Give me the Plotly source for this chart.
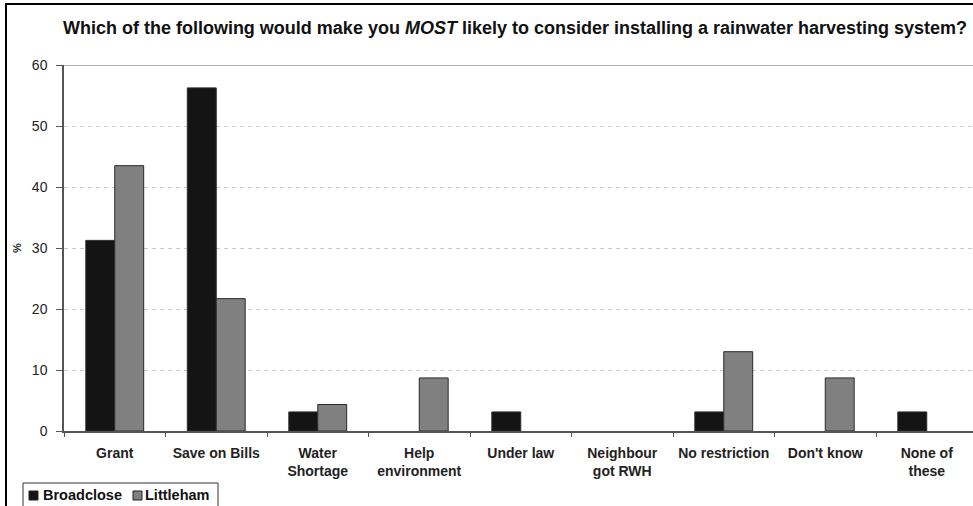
import plotly.graph_objects as go

categories = ["Grant", "Save on Bills", "Water<br>Shortage", "Help<br>environment",
              "Under law", "Neighbour<br>got RWH", "No restriction", "Don't know",
              "None of<br>these"]
broadclose = [31.25, 56.25, 3.125, 0, 3.125, 0, 3.125, 0, 3.125]
littleham = [43.5, 21.7, 4.35, 8.7, 0, 0, 13.0, 8.7, 0]
y_ticks = [0, 10, 20, 30, 40, 50, 60]

W, H = 973, 506
L, R, T, B = 64, 0, 65, 75
PW, PH = W - L - R, H - T - B

def px(x):
    return (x - L) / PW

def py(y):
    return (H - B - y) / PH

FONT = "Liberation Sans, Arial, sans-serif"

def outline_widths(vals):
    return [1 if v else 0 for v in vals]

fig = go.Figure()
fig.add_trace(go.Bar(name="Broadclose", x=categories, y=broadclose,
                     marker=dict(color="#141414",
                                 line=dict(color="#2a2a2a", width=outline_widths(broadclose))),
                     showlegend=False))
fig.add_trace(go.Bar(name="Littleham", x=categories, y=littleham,
                     marker=dict(color="#808080",
                                 line=dict(color="#2a2a2a", width=outline_widths(littleham))),
                     showlegend=False))

cat_px = 101.5
span = PW / cat_px

fig.update_layout(
    width=W, height=H,
    margin=dict(l=L, r=R, t=T, b=B, autoexpand=False),
    paper_bgcolor="white", plot_bgcolor="white",
    barmode="group", bargap=0.43, bargroupgap=0,
    font=dict(family=FONT, color="#222222", size=12),
    title=dict(text="<b>Which of the following would make you <i>MOST</i> likely to consider installing a rainwater harvesting system?</b>",
               x=px(515), xref="paper", xanchor="center", y=1 - 28 / H, yanchor="middle",
               font=dict(size=18, color="#111111", family=FONT)),
    xaxis=dict(range=[-0.5, -0.5 + span], showgrid=False,
               showline=True, linecolor="#555555", linewidth=1.5,
               ticks="outside", tickson="boundaries", ticklen=4, tickcolor="#555555",
               ticklabelstandoff=8,
               tickfont=dict(size=14, family=FONT, color="#222222"),
               tickprefix="<b>", ticksuffix="</b>", fixedrange=True),
    yaxis=dict(range=[0, 60], tickvals=y_ticks, showgrid=True,
               gridcolor="#c8c8c8", griddash="4px,4px", gridwidth=1,
               showline=True, linecolor="#555555", linewidth=1.5,
               ticks="outside", ticklen=6, tickcolor="#555555",
               ticklabelstandoff=6,
               tickfont=dict(size=14, family=FONT, color="#222222"),
               tickprefix="<b>", ticksuffix="</b>", zeroline=False,
               title=dict(text="<b>%</b>", font=dict(size=11, family=FONT, color="#222222"),
                          standoff=8)),
)

# top border line of plot area (light grey, solid)
fig.add_shape(type="line", xref="paper", yref="y", x0=0, x1=1, y0=60, y1=60,
              line=dict(color="#b4b4b4", width=2), layer="below")

# outer black frame
fig.add_shape(type="rect", xref="paper", yref="paper",
              x0=px(6), x1=px(990), y0=py(520), y1=py(4),
              line=dict(color="black", width=2), fillcolor="rgba(0,0,0,0)")

# custom legend
fig.add_shape(type="rect", xref="paper", yref="paper",
              x0=px(23), x1=px(218), y0=py(515), y1=py(483),
              line=dict(color="#333333", width=1), fillcolor="white")
fig.add_shape(type="rect", xref="paper", yref="paper",
              x0=px(29), x1=px(38), y0=py(500), y1=py(491),
              line=dict(color="#222222", width=1), fillcolor="#141414")
fig.add_shape(type="rect", xref="paper", yref="paper",
              x0=px(133), x1=px(142), y0=py(500), y1=py(491),
              line=dict(color="#222222", width=1), fillcolor="#808080")
fig.add_annotation(text="<b>Broadclose</b>", xref="paper", yref="paper",
                   x=px(41), y=py(495), xanchor="left", yanchor="middle", showarrow=False,
                   font=dict(size=14.5, family=FONT, color="#111111"))
fig.add_annotation(text="<b>Littleham</b>", xref="paper", yref="paper",
                   x=px(143), y=py(495), xanchor="left", yanchor="middle", showarrow=False,
                   font=dict(size=14.5, family=FONT, color="#111111"))

fig.write_html("out.html")
